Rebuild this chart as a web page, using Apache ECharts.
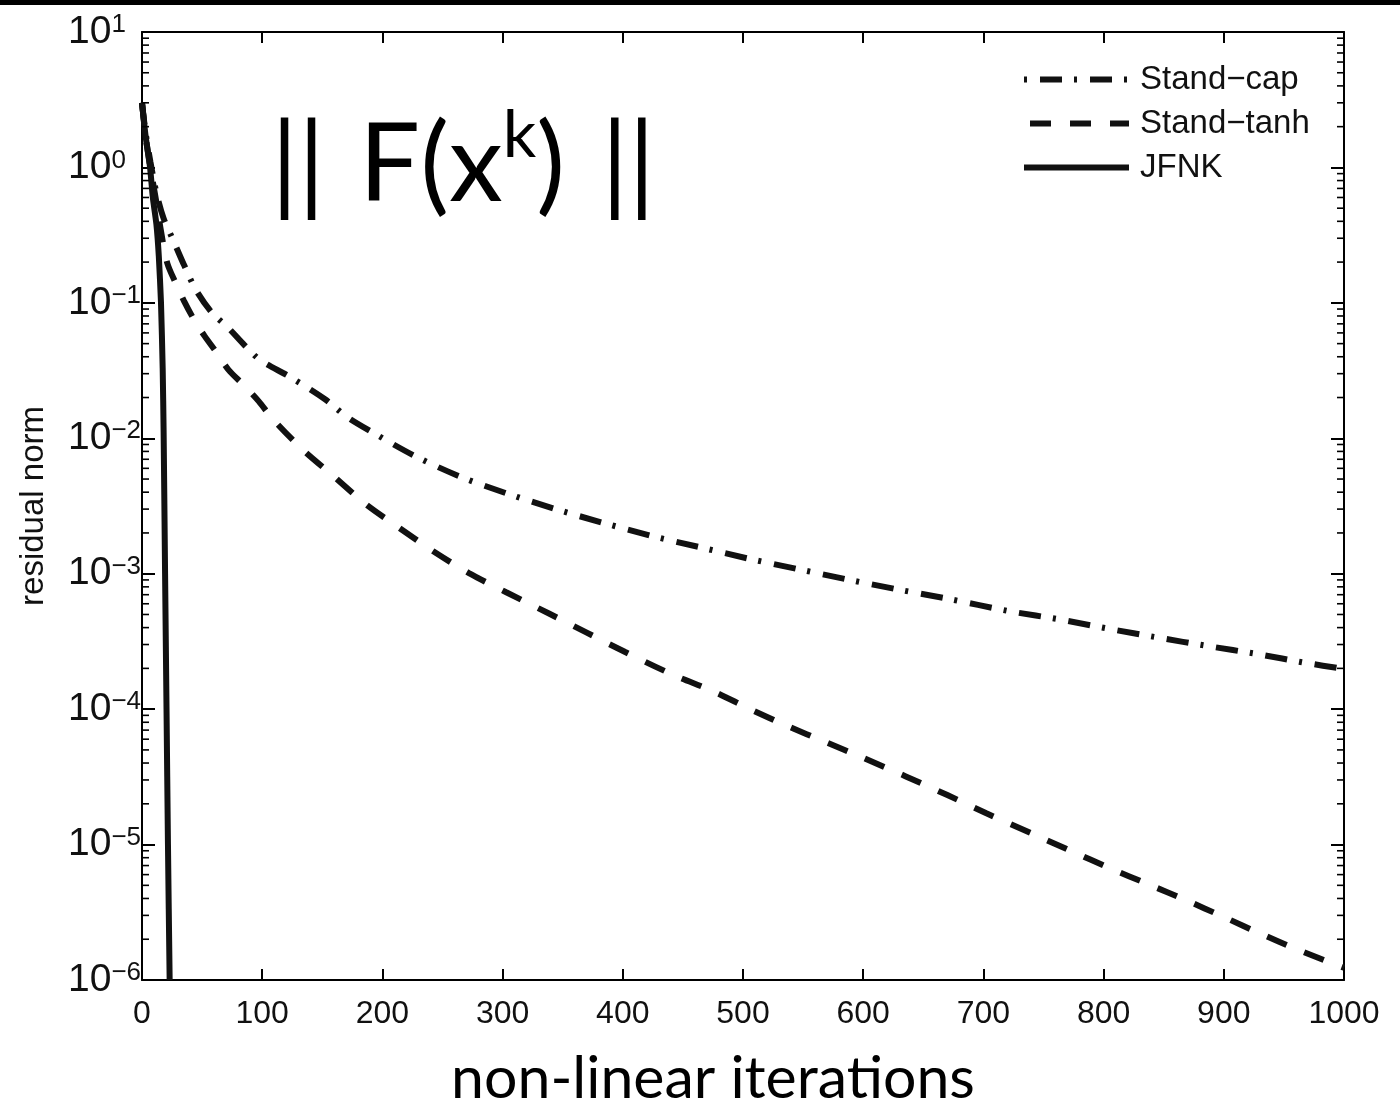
<!DOCTYPE html>
<html>
<head>
<meta charset="utf-8">
<script src="https://cdn.jsdelivr.net/npm/echarts@6/dist/echarts.min.js"></script>
<style>
html,body{margin:0;padding:0;background:#fff;}
#chart{width:1400px;height:1103px;}
</style>
</head>
<body>
<div id="chart"></div>
<script>
// ---- data ----
const capX  = [0, 3, 7, 12, 18, 26, 35, 45, 58, 72, 85, 98, 123, 152, 170, 190, 227, 265, 304, 344, 384, 424, 464, 505, 546, 586, 627, 668, 723, 764, 805, 845, 887, 928, 969, 1000];
const capY  = [3.0, 1.8, 1.1, 0.65, 0.42, 0.29, 0.19, 0.124, 0.085, 0.065, 0.049, 0.038, 0.0284, 0.0195, 0.0145, 0.0113, 0.0074, 0.0052, 0.0039, 0.0030, 0.00237, 0.0019, 0.00157, 0.00129, 0.00108, 0.00091, 0.00077, 0.00066, 0.000526, 0.000459, 0.000391, 0.000338, 0.000292, 0.000255, 0.000219, 0.000198];
const tanhX = [0, 3, 7, 12, 16, 21, 28, 35, 43, 52, 62, 72, 84, 97, 109, 134, 160, 186, 214, 242, 272, 303, 339, 370, 402, 442, 475, 506, 537, 569, 600, 635, 670, 702, 741, 773, 805, 837, 868, 900, 931, 962, 1000];
const tanhY = [3.0, 1.7, 1.0, 0.55, 0.33, 0.197, 0.14, 0.103, 0.076, 0.057, 0.043, 0.032, 0.025, 0.0188, 0.0138, 0.0082, 0.0052, 0.00327, 0.00218, 0.00147, 0.00101, 0.00073, 0.000506, 0.000367, 0.000264, 0.000179, 0.000136, 0.0001, 0.000075, 0.000057, 0.0000437, 0.000032, 0.0000232, 0.0000171, 0.000012, 0.00000897, 0.0000067, 0.0000051, 0.0000039, 0.00000292, 0.00000219, 0.00000167, 0.00000123];
const jfnkX = [0, 3, 6.7, 9, 12, 14, 15.8, 17.2, 18, 19.2, 20.4, 21.6, 23];
const jfnkY = [3.0, 1.7, 1.0, 0.6, 0.38, 0.22, 0.1, 0.033, 0.011, 0.001, 0.0001, 0.00001, 0.000001];

const seriesNames = ['Stand\u2212cap', 'Stand\u2212tanh', 'JFNK'];
const xTicks = [0, 100, 200, 300, 400, 500, 600, 700, 800, 900, 1000];
const yDecades = [-6, -5, -4, -3, -2, -1, 0, 1];
const minorMantissas = [2, 3, 4, 5, 6, 7, 8, 9];

function zip(xs, ys){ return xs.map((x,i)=>[x, ys[i]]); }

// minor tick positions (log axis) from decades x mantissas
const minorVals = [];
yDecades.slice(0, -1).forEach(d => minorMantissas.forEach(m => minorVals.push([0, m * Math.pow(10, d)])));

const chart = echarts.init(document.getElementById('chart'), null, {renderer:'canvas'});

const FONT = '"Liberation Sans", Arial, Helvetica, sans-serif';
const HUM = 'Lato, "Open Sans", sans-serif';
const INK = '#111';
const CAP_DASH = [22,12,3,13];
const TANH_DASH = [21,19];

const axisLineStyle = {color:'#000', width:2};

const option = {
  backgroundColor:'#fff',
  animation:false,
  graphic:[
    {type:'rect', left:0, top:0, shape:{width:1400, height:5}, style:{fill:'#000'}, silent:true}
  ],
  title:{
    text:'{l|||}{m|F(x}{s|k}{m|)}{r|||}',
    left:266, top:98,
    textStyle:{
      fontWeight:'normal',
      rich:{
        l:{fontFamily:HUM, fontWeight:'normal', fontSize:108, lineHeight:126, color:'#000', padding:[0,34,0,0]},
        m:{fontFamily:HUM, fontWeight:'normal', fontSize:108, lineHeight:126, color:'#000'},
        r:{fontFamily:HUM, fontWeight:'normal', fontSize:108, lineHeight:126, color:'#000', padding:[0,0,0,36]},
        s:{fontFamily:HUM, fontWeight:'normal', fontSize:66, lineHeight:82, color:'#000', verticalAlign:'top'}
      }
    }
  },
  legend:{
    orient:'vertical',
    left:1016, top:58,
    itemWidth:105, itemHeight:30, itemGap:11,
    data:[
      {name:seriesNames[0], lineStyle:{type:CAP_DASH, dashOffset:34}},
      {name:seriesNames[1]},
      {name:seriesNames[2]}
    ],
    itemStyle:{opacity:0},
    lineStyle:{width:6, color:INK, cap:'butt'},
    textStyle:{fontFamily:FONT, fontSize:33, color:INK, padding:[0,0,0,6], lineHeight:30},
    backgroundColor:'transparent',
    selectedMode:false
  },
  grid:{left:142, top:32, right:56, bottom:123, containLabel:false, outerBoundsMode:'none'},
  xAxis:[{
    type:'value', min:0, max:1000, interval:100,
    name:'non-linear iterations', nameLocation:'middle', nameGap:69,
    nameTextStyle:{fontFamily:HUM, fontSize:59, color:'#000', padding:[0,60,0,0]},
    axisLine:{show:true, onZero:false, lineStyle:axisLineStyle},
    axisTick:{show:true, inside:true, length:11, lineStyle:{color:'#000', width:2}},
    axisLabel:{fontFamily:FONT, fontSize:32, color:INK, margin:18,
      formatter:(v)=> xTicks.indexOf(v) >= 0 ? String(v) : ''},
    splitLine:{show:false}
  },{
    type:'value', min:0, max:1000, interval:100, position:'top',
    axisLine:{show:true, onZero:false, lineStyle:axisLineStyle},
    axisTick:{show:true, inside:true, length:11, lineStyle:{color:'#000', width:2}},
    axisLabel:{show:false}, splitLine:{show:false}
  }],
  yAxis:[{
    type:'log', logBase:10, min:1e-6, max:10,
    name:'residual norm', nameLocation:'middle', nameGap:92, nameRotate:90,
    nameTextStyle:{fontFamily:FONT, fontSize:33, color:INK},
    axisLine:{show:true, onZero:false, lineStyle:axisLineStyle},
    axisTick:{show:true, inside:true, length:13, lineStyle:{color:'#000', width:2}},
    axisLabel:{
      margin:74, align:'left',
      formatter:(v)=>{
        const e = Math.round(Math.log10(v));
        return '{b|10}{s|' + (e < 0 ? '\u2212' + (-e) : String(e)) + '}';
      },
      rich:{
        b:{fontFamily:FONT, fontSize:39, lineHeight:40, color:INK},
        s:{fontFamily:FONT, fontSize:26, lineHeight:22, color:INK, verticalAlign:'top'}
      }
    },
    splitLine:{show:false}
  },{
    type:'log', logBase:10, min:1e-6, max:10, position:'right',
    axisLine:{show:true, onZero:false, lineStyle:axisLineStyle},
    axisTick:{show:true, inside:true, length:13, lineStyle:{color:'#000', width:2}},
    axisLabel:{show:false}, splitLine:{show:false}
  }],
  series:[
    {
      name:seriesNames[0], type:'line', data:zip(capX, capY), showSymbol:false, symbol:'none',
      smooth:0.3, clip:true, z:3, itemStyle:{color:INK},
      lineStyle:{color:INK, width:6, type:CAP_DASH, cap:'butt'}
    },
    {
      name:seriesNames[1], type:'line', data:zip(tanhX, tanhY), showSymbol:false, symbol:'none',
      smooth:0.3, clip:true, z:3, itemStyle:{color:INK},
      lineStyle:{color:INK, width:6, type:TANH_DASH, cap:'butt'}
    },
    {
      name:seriesNames[2], type:'line', data:zip(jfnkX, jfnkY), showSymbol:false, symbol:'none',
      smooth:0.2, clip:true, z:4, itemStyle:{color:INK},
      lineStyle:{color:INK, width:6, type:'solid'}
    },
    {
      name:'minorTicks', type:'custom', data:minorVals, silent:true, z:5,
      encode:{x:0, y:1},
      renderItem:(params, api)=>{
        const y = api.coord([0, api.value(1)])[1];
        const cs = params.coordSys;
        return {type:'group', children:[
          {type:'line', shape:{x1:cs.x, y1:y, x2:cs.x+7, y2:y}, style:{stroke:'#000', lineWidth:1.6}},
          {type:'line', shape:{x1:cs.x+cs.width, y1:y, x2:cs.x+cs.width-7, y2:y}, style:{stroke:'#000', lineWidth:1.6}}
        ]};
      }
    }
  ]
};
chart.setOption(option);
</script>
</body>
</html>
